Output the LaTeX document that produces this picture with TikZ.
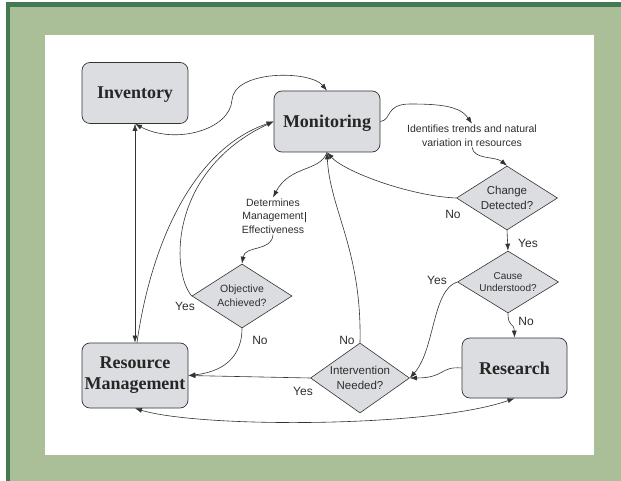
\documentclass[tikz,border=0pt]{standalone}
\usepackage{fontspec}
\setmainfont{Liberation Serif}
\setsansfont{Liberation Sans}
\usetikzlibrary{shapes.geometric,arrows.meta}
\definecolor{framegreen}{HTML}{AABE98}
\definecolor{framedark}{HTML}{437A52}
\definecolor{boxgray}{HTML}{DCDDE0}
\definecolor{linegray}{HTML}{333333}
\definecolor{textgray}{HTML}{2E2E2E}
\tikzset{
	block/.style={draw=linegray, fill=boxgray, rounded corners=8pt, line width=0.7pt,
		minimum width=106pt, minimum height=61pt, inner sep=0pt, align=center,
		text=black!85, font=\bfseries\fontsize{18}{21}\selectfont},
	decision/.style={diamond, draw=linegray, fill=boxgray, line width=0.6pt,
		inner sep=0pt, minimum width=101pt, minimum height=64pt},
	dtext/.style={align=center, text=textgray, inner sep=1pt, font=\sffamily\fontsize{10.5}{13.5}\selectfont},
	answer/.style={text=textgray, inner sep=0pt, font=\sffamily\fontsize{12}{14}\selectfont},
	flow/.style={draw=linegray, line width=0.6pt, -{Latex[length=7pt,width=5pt]}},
	bothflow/.style={flow, {Latex[length=7pt,width=5pt]}-{Latex[length=7pt,width=5pt]}}
}
\begin{document}
\begin{tikzpicture}[x=1pt,y=-1pt]
	%Frame round the picture
	\useasboundingbox (0,0) rectangle (621,481);
	\fill[white] (0,0) rectangle (621,481);
	\fill[framegreen] (6,2) rectangle (621,481);
	\fill[framedark] (6,2) rectangle (621,7);
	\fill[framedark] (6,2) rectangle (10,481);
	\fill[white] (45,35) rectangle (594,455);
	%Centers of the boxes
	\coordinate (cinv) at (135,93);
	\coordinate (cmon) at (327,121.5);
	\coordinate (crm) at (135,375.5);
	\coordinate (cres) at (514.5,368);
	%Centers of the decisions
	\coordinate (cchg) at (507,198);
	\coordinate (ccau) at (508,282);
	\coordinate (cobj) at (242,296);
	\coordinate (cint) at (360,378);
	%Boxes
	\node[block, text depth=0pt] (inv) at (cinv) {Inventory};
	\node[block, text depth=0pt] (mon) at (cmon) {Monitoring};
	\node[block, minimum height=65pt] (rm) at (crm) {Resource\\Management};
	\node[block, minimum height=60pt, minimum width=105pt] (res) at (cres) {Research};
	%Decisions
	\node[decision] (chg) at (cchg) {};
	\node[dtext, font=\sffamily\fontsize{11.5}{15}\selectfont] (chgtxt) at (cchg) {Change\\Detected?};
	\node[decision, minimum height=62pt] (cau) at (ccau) {};
	\node[dtext, font=\sffamily\fontsize{10}{12.5}\selectfont] (cautxt) at (ccau) {Cause\\Understood?};
	\node[decision, minimum width=100pt] (obj) at (cobj) {};
	\node[dtext, font=\sffamily\fontsize{10.5}{14}\selectfont] (objtxt) at (cobj) {Objective\\Achieved?};
	\node[decision, minimum width=99pt, minimum height=70pt] (int) at (cint) {};
	\node[dtext, font=\sffamily\fontsize{11.5}{15}\selectfont] (inttxt) at (cint) {Intervention\\Needed?};
	%Notes
	\node[dtext] (idt) at (472,135.5) {Identifies trends and natural\\variation in resources};
	\node[dtext] (det) at (273,216) {Determines\\Management\rlap{\,\rule[-2pt]{0.6pt}{10pt}}\\Effectiveness};
	%Answers
	\node[answer] (nochg) at (453,214) {No};
	\node[answer] (yeschg) at (528,243) {Yes};
	\node[answer] (yescau) at (437,280) {Yes};
	\node[answer] (nocau) at (526,321) {No};
	\node[answer] (yesobj) at (185,306) {Yes};
	\node[answer] (noobj) at (260,340) {No};
	\node[answer] (noint) at (347,340) {No};
	\node[answer] (yesint) at (303,391) {Yes};
	%Connectors
	\draw[bothflow] (inv.south) -- (rm.north);
	\draw[bothflow] (inv.south) .. controls (175,145) and (230,130) .. (232,100)
		.. controls (234,70) and (310,70) .. (mon.north);
	\draw[flow] ([xshift=2pt]rm.north) .. controls (150,250) and (190,150) .. (mon.west);
	\draw[flow] (obj.west) .. controls (170,270) and (170,170) .. (mon.west);
	\draw[flow] (mon.east) .. controls (392,120) and (385,104) .. (410,104)
		.. controls (440,104) and (460,106) .. (idt.north);
	\draw[flow] (idt.south) .. controls (474,160) and (495,156) .. (chg.north);
	\draw[flow] (chg.west) .. controls (410,196) and (345,172) .. (mon.south);
	\draw[flow] (chg.south) -- (cau.north);
	\draw[flow] (cau.south) .. controls (508,328) and (514,322) .. (res.north);
	\draw[flow] (cau.west) .. controls (432,290) and (435,350) .. (int.east);
	\draw[flow] (res.west) .. controls (440,366) and (445,378) .. (int.east);
	\draw[flow] (int.west) -- (rm.east);
	\draw[flow] (int.north) .. controls (362,250) and (330,210) .. (mon.south);
	\draw[flow] (mon.south) .. controls (320,172) and (290,165) .. (det.north);
	\draw[flow] (det.south) .. controls (272,252) and (245,245) .. (obj.north);
	\draw[flow] (obj.south) .. controls (242,365) and (212,373) .. (rm.east);
	\draw[bothflow] (rm.south) .. controls (200,428) and (430,428) .. (res.south);
\end{tikzpicture}
\end{document}
